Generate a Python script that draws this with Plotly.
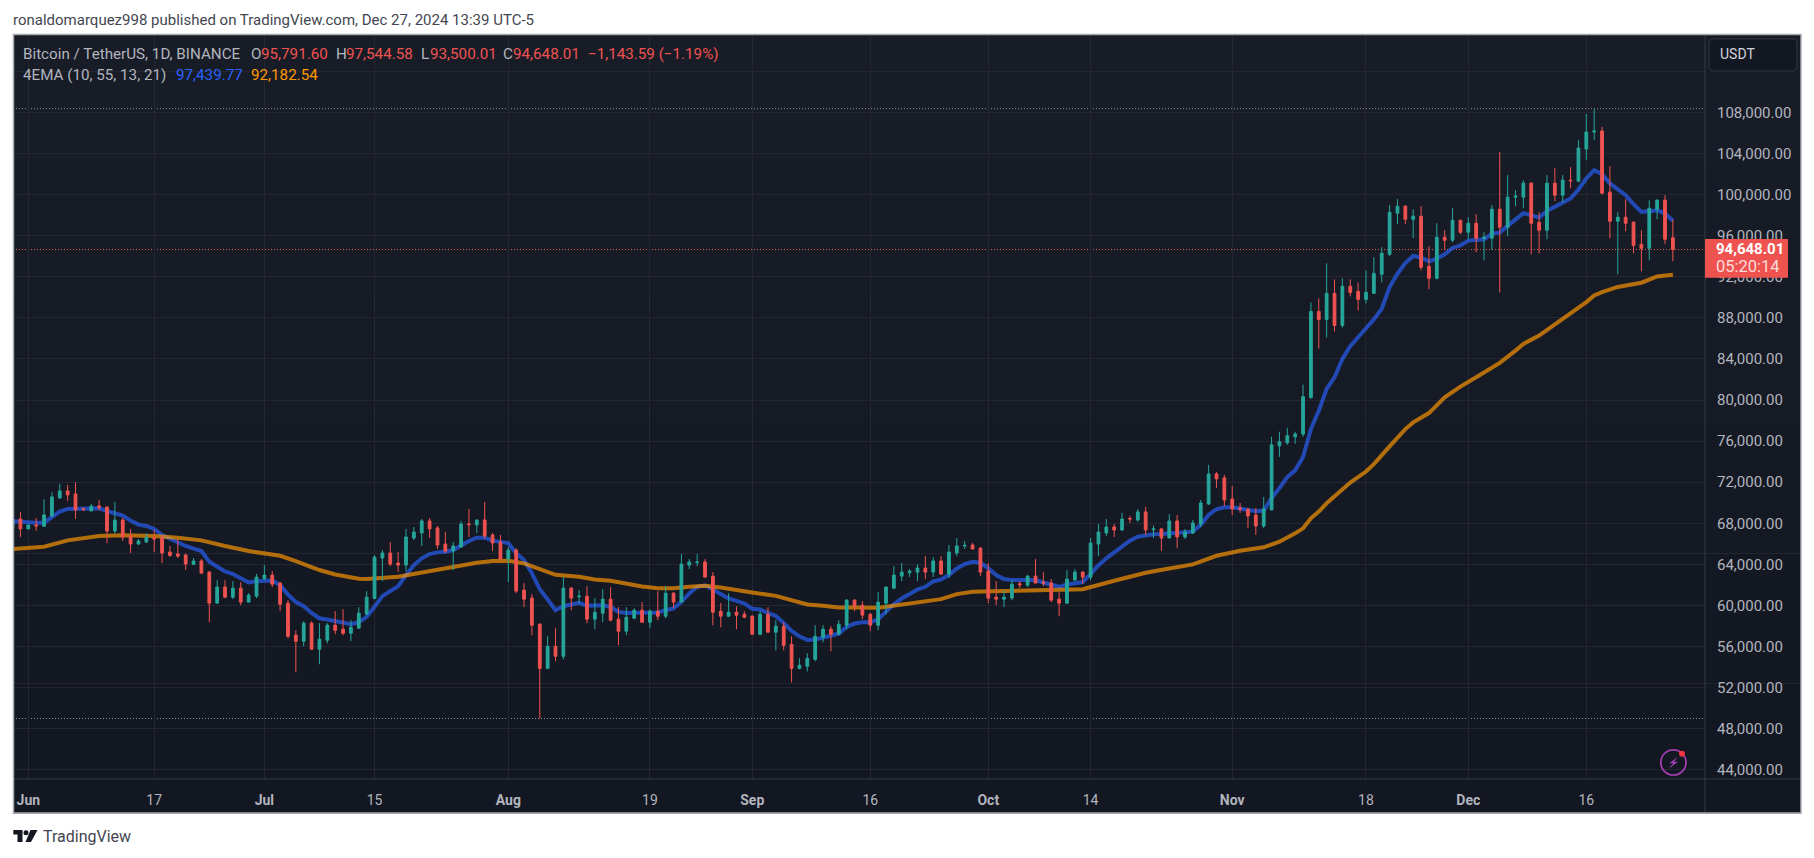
import pandas as pd
import plotly.graph_objects as go

# ---------- data ----------
dates = pd.date_range("2024-05-30", "2024-12-27", freq="D")

opens = [67580, 68420,
 67450,67840,67710,68715,70470,71150,70860,69400,69200,69690,69590,67250,68320,66770,65980,66180,66600,66600,65200,65010,64910,64000,64330,63250,60230,61790,60810,61690,60330,60910,
 62630,62960,62180,60230,57110,56520,58280,55740,56620,58080,57690,57300,57790,59150,60680,64620,65110,64130,63930,66570,67060,68230,67550,65980,65300,65690,67930,67840,68325,66860,66180,
 64520,65400,61500,60720,58180,53880,56030,55060,61690,60850,60910,58670,59250,60620,58670,57500,58760,59545,58370,59450,58960,61200,60330,63930,64160,64230,62860,59450,58960,59350,59150,
 58960,57200,59150,57400,57980,56230,53880,54080,54760,56910,57690,57200,58080,60520,60030,59150,58080,60230,61690,62860,63190,63250,63640,63250,64330,63060,65110,65790,65890,65590,
 63350,60810,60620,60720,62110,61980,62860,62280,62180,60620,60230,62470,63250,62760,65980,67060,67640,67350,68460,68325,69110,67380,67450,66570,68230,66670,67060,67930,69880,72810,72420,
 70370,69500,69370,68810,67740,69300,75545,75840,76420,76680,80230,88620,87840,90375,87250,91060,90570,89790,90375,92230,94180,98180,98860,97590,97885,93008,91840,95835,95545,97495,
 96325,97200,95740,95740,98570,96810,99740,99740,101105,97300,96520,101105,99935,101400,101300,104420,106080,106180,100230,97400,97790,97300,95155,94765,98570,99447,95791.60]

highs = [68400, 69100,
 67840,68520,70340,71020,71840,71740,72000,69560,69890,70280,69590,70080,68520,67450,66470,67030,67350,66860,65790,66470,65070,64620,64520,63350,62470,62470,62370,62280,61200,63060,
 63930,63350,62280,60520,57590,58470,58470,58280,58280,59450,59640,58570,59840,61400,64910,65400,66180,65200,67450,67640,68420,68520,67740,67150,66180,68230,69400,68325,70080,67060,66860,
 65690,65590,62180,61110,58280,57010,57790,62760,61790,61500,61880,60720,61590,61790,59840,59840,59740,60330,59640,61400,61880,61300,65010,64520,65010,64520,63250,60230,61200,59930,59450,
 59060,59450,59840,58570,58370,57010,54860,55350,58080,58080,57980,58570,60620,60620,60420,59250,61300,61850,63840,64130,63540,64030,64810,64710,64810,65890,66570,66280,66080,65690,
 64130,62370,61500,62470,62370,62960,64520,63250,62570,61300,63450,63540,63350,66570,67930,68420,67930,69010,68720,69400,69590,67800,67550,68910,68810,67450,68325,70275,73690,73010,72715,
 71640,69980,69500,69500,70570,76420,76910,77300,76910,81495,89495,89885,93300,91740,91840,91740,91445,92620,93885,94860,98960,99545,98960,98570,98860,94960,97200,96520,98665,97495,
 97790,98080,96325,98960,104130,101890,100420,101400,101200,98275,101890,102570,101890,102665,105300,107835,108353,106570,102765,98275,99545,97400,96520,99447,99545,99935,97544.58]

lows = [67580, 66670,
 67450,67280,67640,68620,70370,70180,68420,69200,69200,69270,66080,67030,66280,65100,65890,66080,65200,64130,64720,64620,63450,63930,63150,58370,60230,60720,60620,60030,60330,60720,
 62500,61790,59450,56810,53500,56030,55740,54280,56320,57200,57100,56520,57790,59150,60620,62370,63840,63250,63350,66370,65790,66570,65500,65100,63450,65690,66670,67060,66470,65300,64520,
 62280,61200,59840,57110,49000,53880,54570,54760,59545,60230,58280,57690,58370,58470,56130,57110,58760,58370,57790,58570,58760,59740,60330,63540,63840,62760,58080,57880,58860,57690,58760,
 57200,57110,57400,55640,55640,52520,53790,53590,54570,56420,55540,57200,57690,59450,58670,57500,57595,59150,61590,62370,62760,62370,62570,62760,62960,62670,64810,65500,65500,62860,
 60230,60030,59840,60520,61690,61790,62180,61880,60330,58960,60130,62470,62080,62470,64810,66770,66670,67250,68030,68130,66860,66570,65300,66570,65590,66470,66960,67640,69790,71450,69690,
 68810,69010,67550,66860,67550,69300,74470,75640,75740,76420,80130,85000,86080,86670,87055,90080,88715,89400,90375,91445,93985,97105,97105,95740,92620,90765,91740,94570,95350,96130,
 95640,94375,93590,94600,90470,95935,98860,98665,94180,94275,95640,99350,99250,100620,101200,103350,105300,100030,95740,92230,96420,94275,92520,93593,97595,95155,93500.01]

closes = [68390, 67450,
 67840,67740,68810,70570,71150,70760,69300,69330,69660,69530,67250,68320,66670,65980,66280,66630,66470,65100,64880,64810,64030,64330,63150,60230,61790,60810,61690,60330,61010,62760,
 62960,62080,60130,57010,56520,58280,55740,56720,58080,57590,57300,57880,59250,60810,64710,65110,64030,63930,66670,67150,68230,67450,65890,65300,65790,67930,67870,68325,66770,66080,64520,
 65400,61400,60620,58080,53880,56030,55060,61690,60720,60910,58670,59350,60620,58570,57500,58860,59545,58370,59450,58960,61200,60330,64030,64230,64230,62760,59350,58960,59350,59060,58860,
 57200,59150,57400,57980,56130,53880,54180,54860,57010,57690,57200,58180,60520,59930,59060,58080,60330,61790,62960,63250,63350,63640,63250,64330,63060,65200,65790,65850,65500,63250,
 60720,60620,60810,62080,62010,62860,62180,62180,60520,60230,62570,63250,62760,66080,67150,67640,67350,68420,68420,69110,67350,67450,66570,68230,66670,67150,68030,69980,72810,72325,70275,
 69400,69370,68720,67740,69400,75640,75935,76520,76680,80325,88620,87840,90375,87250,91060,90470,89790,90470,92325,94275,98275,98860,97590,97885,92910,91840,95835,95545,97495,96325,
 97200,95740,95835,98570,96810,99740,99840,101105,97200,96520,101105,99935,101400,101333,104520,106080,106180,100130,97400,97790,97200,95055,94765,98665,99447,95640,94648.01]

ema_fast = [68200,68130,
 68065,68065,68065,68550,69140,69400,69400,69400,69430,69460,69200,68975,68750,68260,67870,67740,67450,66860,66500,66210,65790,65530,65300,64260,63775,63320,63060,62630,62240,62370,
 62440,62440,61980,61070,60330,59930,59280,58760,58630,58500,58280,58180,58370,58895,59870,60910,61400,61880,62960,63930,64590,65010,65170,65235,65400,65890,66280,66600,66600,66310,66180,
 66080,65075,64425,63130,61590,60590,59545,59930,60130,60260,59970,59970,60030,59870,59380,59280,59280,59250,59280,59320,59545,59710,60360,61170,61820,61950,61560,61110,60680,60450,60200,
 59675,59610,59280,58990,58310,57530,57010,56650,56680,56850,57010,57270,57920,58245,58370,58370,58670,59380,60130,60680,61170,61560,61820,62340,62540,62960,63610,64030,64260,64160,
 63610,62960,62570,62470,62470,62470,62470,62240,62050,61820,62050,62180,62280,63060,63930,64590,65170,65820,66310,66700,66860,66930,66960,67025,67025,67090,67190,67840,68810,69370,69560,
 69560,69430,69270,69170,69235,70440,71420,72500,73150,74450,77170,78960,81075,82210,84000,85235,86110,86925,87840,88880,90990,92290,93335,94015,93855,93495,93755,94180,94800,95055,
 95510,95575,95640,96195,96290,96945,97560,98180,97985,97755,98405,98800,99185,99610,100490,101560,102375,101985,101075,100490,99935,99055,98310,98375,98470,98147,97439.77]

slow_dates = ["2024-05-30","2024-06-03","2024-06-06","2024-06-10","2024-06-13","2024-06-17","2024-06-20","2024-06-23","2024-06-26","2024-06-29",
 "2024-07-03","2024-07-05","2024-07-08","2024-07-10","2024-07-13","2024-07-14","2024-07-18","2024-07-20","2024-07-22","2024-07-24","2024-07-25","2024-07-28","2024-07-30",
 "2024-08-01","2024-08-03","2024-08-05","2024-08-07","2024-08-10","2024-08-12","2024-08-14","2024-08-16","2024-08-18","2024-08-20","2024-08-22","2024-08-24","2024-08-26","2024-08-28","2024-08-30",
 "2024-09-01","2024-09-04","2024-09-06","2024-09-08","2024-09-10","2024-09-12","2024-09-14","2024-09-17","2024-09-18","2024-09-22","2024-09-25","2024-09-27","2024-09-29",
 "2024-10-03","2024-10-07","2024-10-11","2024-10-13","2024-10-17","2024-10-21","2024-10-24","2024-10-27","2024-10-30",
 "2024-11-02","2024-11-05","2024-11-07","2024-11-09","2024-11-10","2024-11-11","2024-11-12","2024-11-13","2024-11-16","2024-11-18","2024-11-19","2024-11-21","2024-11-23","2024-11-24","2024-11-26","2024-11-28","2024-11-30",
 "2024-12-02","2024-12-03","2024-12-05","2024-12-07","2024-12-08","2024-12-10","2024-12-13","2024-12-15","2024-12-16","2024-12-17","2024-12-18","2024-12-20","2024-12-22","2024-12-23","2024-12-25","2024-12-27"]
ema_slow = [65500,65725,66340,66770,66830,66770,66600,66340,65790,65300,
 64840,64330,63450,63020,62600,62570,62800,63060,63415,63580,63710,64160,64330,
 64360,64100,63540,62990,62800,62540,62410,62080,61850,61690,61690,61820,61920,61760,61560,
 61270,60940,60520,60100,59970,59800,59800,59770,59870,60300,60620,61110,61330,
 61400,61460,61530,61590,62410,63190,63610,64000,64840,
 65330,65660,66210,67025,67510,68490,69140,69950,71970,73040,73757,75480,77170,77820,78730,80260,81300,
 82210,82700,83610,84810,85460,86275,87900,88880,89530,90180,90505,91000,91320,91415,92030,92182.54]

y_ticks = list(range(44000, 116000, 4000))
y_tick_text = ["" if v == 112000 else f"{v:,.2f}" for v in y_ticks]
x_tick_dates = ["2024-06-01","2024-06-17","2024-07-01","2024-07-15","2024-08-01","2024-08-19","2024-09-01","2024-09-16",
                "2024-10-01","2024-10-14","2024-11-01","2024-11-18","2024-12-01","2024-12-16"]
x_tick_text = ["<b>Jun</b>","17","<b>Jul</b>","15","<b>Aug</b>","19","<b>Sep</b>","16","<b>Oct</b>","14","<b>Nov</b>","18","<b>Dec</b>","16"]
series_high = 108353
series_low = 49000
last_price = 94648.01

assert len(dates) == len(opens) == len(highs) == len(lows) == len(closes) == len(ema_fast)
assert len(slow_dates) == len(ema_slow)

# ---------- style ----------
W, H = 1814, 858
L, R, T, B = 13, 1705, 34, 779
FONT = "Roboto"
TXT = "#b2b5be"
RED = "#ef5350"
GREEN = "#26a69a"
GRID = "#242733"
X_RANGE = ["2024-05-30 01:19", "2024-12-31 02:00"]
Y_RANGE = [43115, 115620]

def px(x): return (x - L) / (R - L)
def py(y): return 1 - (y - T) / (B - T)

def poly(points, close=True):
    s = " ".join(("M" if i == 0 else "L") + f" {px(x):.6f} {py(y):.6f}" for i, (x, y) in enumerate(points))
    return s + (" Z" if close else "")

shapes = []
def rect(x0, y0, x1, y1, fill, line="rgba(0,0,0,0)", width=0, layer="below"):
    shapes.append(dict(type="rect", xref="paper", yref="paper", x0=px(x0), x1=px(x1), y0=py(y0), y1=py(y1),
                       fillcolor=fill, line=dict(color=line, width=width), layer=layer))
def seg(x0, y0, x1, y1, color, width=1, layer="below"):
    shapes.append(dict(type="line", xref="paper", yref="paper", x0=px(x0), x1=px(x1), y0=py(y0), y1=py(y1),
                       line=dict(color=color, width=width), layer=layer))

# background (dark gradient in bands)
bands = ["#181c27", "#171b26", "#161a25", "#151924", "#141823", "#131722"]
band_h = (813 - 34) / len(bands)
for i, c in enumerate(bands):
    rect(13, 34 + i * band_h, 1801, 34 + (i + 1) * band_h + 0.5, c)

# pane separators and frame
seg(1705, 34, 1705, 813, "#363a45", layer="above")
seg(13, 779, 1801, 779, "#363a45", layer="above")
shapes.append(dict(type="rect", xref="paper", yref="paper", x0=px(13.5), x1=px(1801), y0=py(34.5), y1=py(813),
                   line=dict(color="#a9acb5", width=1.5), layer="above"))

# dotted price lines
for price, color in [(series_high, "#8c8f99"), (series_low, "#8c8f99"), (last_price, RED)]:
    shapes.append(dict(type="line", xref="paper", yref="y", x0=0, x1=1, y0=price, y1=price,
                       line=dict(color=color, width=1, dash="1px,2px"), layer="below"))

# price tag
rect(1705, 239, 1788, 277.7, RED, layer="above")
# currency button
r = 5
x0, x1, y0, y1 = 1709, 1797, 38.7, 71
shapes.append(dict(type="path", xref="paper", yref="paper", layer="above", fillcolor="#131722",
    line=dict(color="#2a2e39", width=1.5),
    path=(f"M {px(x0+r):.6f} {py(y0):.6f} L {px(x1-r):.6f} {py(y0):.6f} Q {px(x1):.6f} {py(y0):.6f} {px(x1):.6f} {py(y0+r):.6f} "
          f"L {px(x1):.6f} {py(y1-r):.6f} Q {px(x1):.6f} {py(y1):.6f} {px(x1-r):.6f} {py(y1):.6f} "
          f"L {px(x0+r):.6f} {py(y1):.6f} Q {px(x0):.6f} {py(y1):.6f} {px(x0):.6f} {py(y1-r):.6f} "
          f"L {px(x0):.6f} {py(y0+r):.6f} Q {px(x0):.6f} {py(y0):.6f} {px(x0+r):.6f} {py(y0):.6f} Z")))

# bolt badge
PURPLE = "#a63fb5"
shapes.append(dict(type="circle", xref="paper", yref="paper", x0=px(1660.8), x1=px(1686), y0=py(749.8), y1=py(775),
                   line=dict(color=PURPLE, width=1.7), layer="above"))
shapes.append(dict(type="path", xref="paper", yref="paper", layer="above", fillcolor=PURPLE, line=dict(width=0),
                   path=poly([(1678, 756.7), (1669.3, 763.3), (1673.3, 763.3), (1668.7, 768.7), (1678, 761.7), (1674, 761.7)])))
shapes.append(dict(type="circle", xref="paper", yref="paper", x0=px(1679), x1=px(1685), y0=py(750.7), y1=py(756.7),
                   fillcolor="#f23645", line=dict(width=0), layer="above"))

# TradingView logo
LOGO = "#131722"
shapes.append(dict(type="path", xref="paper", yref="paper", layer="above", fillcolor=LOGO, line=dict(width=0),
                   path=poly([(13.3, 830), (22.5, 830), (22.5, 842), (17.5, 842), (17.5, 834.5), (13.3, 834.5)])))
shapes.append(dict(type="circle", xref="paper", yref="paper", x0=px(23.5), x1=px(28.5), y0=py(830.2), y1=py(835.2),
                   fillcolor=LOGO, line=dict(width=0), layer="above"))
shapes.append(dict(type="path", xref="paper", yref="paper", layer="above", fillcolor=LOGO, line=dict(width=0),
                   path=poly([(30.5, 830), (37.5, 830), (31, 842), (25.5, 842)])))

annotations = []
def text(x, y, s, size=15.2, color=TXT, anchor="left", family=FONT):
    annotations.append(dict(xref="paper", yref="paper", x=px(x), y=py(y), text=s, showarrow=False,
                            xanchor=anchor, yanchor="middle", align=anchor,
                            font=dict(family=family, size=size, color=color), borderpad=0, borderwidth=0))

text(12.7, 20, "ronaldomarquez998 published on TradingView.com, Dec 27, 2024 13:39 UTC-5", 15, "#434651")
text(22.8, 53.7, "Bitcoin / TetherUS, 1D, BINANCE")
text(251, 53.7, "O"); text(261, 53.7, "95,791.60", color=RED)
text(336, 53.7, "H"); text(345.6, 53.7, "97,544.58", color=RED)
text(421, 53.7, "L"); text(429.5, 53.7, "93,500.01", color=RED)
text(503, 53.7, "C"); text(513, 53.7, "94,648.01", color=RED)
text(588, 53.7, "\u22121,143.59 (\u22121.19%)", color=RED)
text(22.8, 75.3, "4EMA (10, 55, 13, 21)")
text(176, 75.3, "97,439.77", color="#2962ff")
text(251, 75.3, "92,182.54", color="#ff9800")
text(1720, 54.5, "USDT", 14, "#d1d4dc")
text(1716, 249, "<b>94,648.01</b>", 15, "#ffffff")
text(1716, 267, "05:20:14", 16.5, "#fbdcdc")
text(43, 836.5, "TradingView", 16, "#434651")

# ---------- figure ----------
fig = go.Figure()
fig.add_trace(go.Scatter(x=dates, y=ema_fast, mode="lines", hoverinfo="skip", showlegend=False,
                         line=dict(color="rgba(41,98,255,0.66)", width=4)))
fig.add_trace(go.Scatter(x=slow_dates, y=ema_slow, mode="lines", hoverinfo="skip", showlegend=False,
                         line=dict(color="rgba(255,152,0,0.68)", width=4)))
fig.add_trace(go.Candlestick(x=dates, open=opens, high=highs, low=lows, close=closes, xaxis="x2", yaxis="y2",
                             showlegend=False, whiskerwidth=0,
                             increasing=dict(line=dict(color=GREEN, width=1), fillcolor=GREEN),
                             decreasing=dict(line=dict(color=RED, width=1), fillcolor=RED)))

fig.update_layout(
    width=W, height=H, autosize=False,
    margin=dict(l=L, r=W - R, t=T, b=H - B, pad=0),
    paper_bgcolor="#ffffff", plot_bgcolor="rgba(0,0,0,0)",
    showlegend=False, boxgap=0.5, hovermode=False,
    shapes=shapes, annotations=annotations,
    xaxis=dict(type="date", range=X_RANGE, tickmode="array", tickvals=x_tick_dates, ticktext=x_tick_text,
               showgrid=True, gridcolor=GRID, gridwidth=1, zeroline=False, showline=False,
               ticks="outside", ticklen=8, tickcolor="rgba(0,0,0,0)", tickangle=0,
               tickfont=dict(family=FONT, size=14, color=TXT)),
    yaxis=dict(range=Y_RANGE, side="right", tickmode="array", tickvals=y_ticks, ticktext=y_tick_text,
               showgrid=True, gridcolor=GRID, gridwidth=1, zeroline=False, showline=False,
               ticks="outside", ticklen=8, tickcolor="rgba(0,0,0,0)",
               tickfont=dict(family=FONT, size=15, color=TXT)),
    xaxis2=dict(type="date", range=X_RANGE, overlaying="x", visible=False, rangeslider=dict(visible=False)),
    yaxis2=dict(range=Y_RANGE, overlaying="y", side="right", visible=False),
)

fig.write_html("out.html", config=dict(displayModeBar=False),
               post_script="document.body.style.margin='0';document.body.style.overflow='hidden';")
